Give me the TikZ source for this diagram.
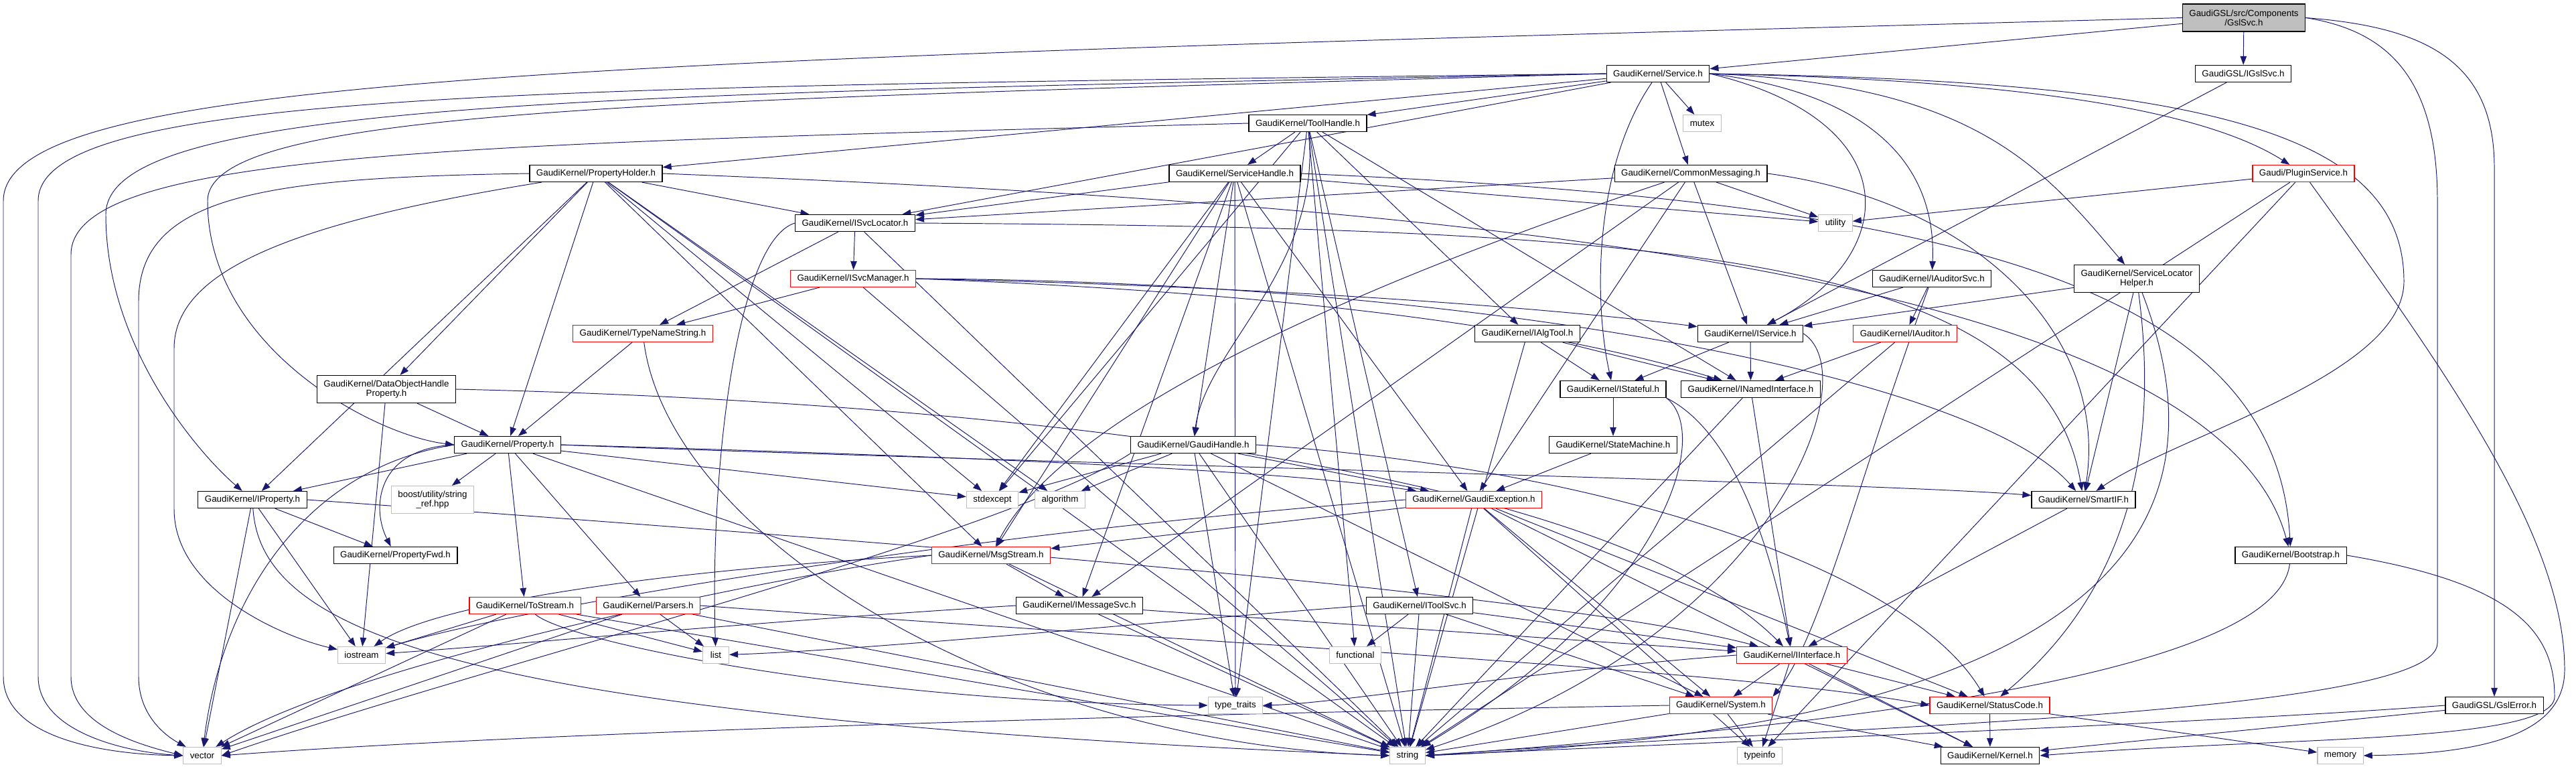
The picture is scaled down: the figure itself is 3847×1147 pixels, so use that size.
\documentclass[tikz,border=0pt]{standalone}
\usepackage{fontspec}
\setmainfont{Liberation Sans}
\usetikzlibrary{arrows.meta}
\definecolor{edgeblue}{HTML}{191970}
\definecolor{sysgray}{HTML}{BFBFBF}
\pgfdeclarelayer{back}
\pgfsetlayers{back,main}
\newcommand\hdrfont{\fontsize{7.6pt}{8pt}\selectfont}
\tikzset{
  hdr/.style={draw=black, line width=0.7pt, fill=white, font=\hdrfont, inner xsep=0.2cm, inner ysep=0.04cm, minimum height=0.5cm},
  syshdr/.style={hdr, draw=sysgray, minimum width=0.78cm},
  cuthdr/.style={hdr, draw=red},
  twoline/.style={align=center, minimum height=0.82cm},
  dep/.style={draw=edgeblue, line width=0.55pt, -{Triangle[length=0.26cm, width=0.19cm]}},
}

\begin{document}
\begin{tikzpicture}[x=0.02cm, y=-0.02cm]
		\useasboundingbox (0, 0) rectangle (3847, 1147);
		%%%%% NODES %%%%%
		\node[hdr, twoline, fill=sysgray] (gslsvc) at (3351, 26.5) {GaudiGSL/src/Components\\/GslSvc.h};
		
		\node[hdr] (svc) at (2476, 110) {GaudiKernel/Service.h};
		\node[hdr] (igslsvc) at (3350, 110) {GaudiGSL/IGslSvc.h};
		
		\node[hdr] (toolhandle) at (1953, 184) {GaudiKernel/ToolHandle.h};
		\node[syshdr] (mutex) at (2542, 184) {mutex};
		
		\node[hdr] (propholder) at (890, 259) {GaudiKernel/PropertyHolder.h};
		\node[hdr] (svchandle) at (1844, 259) {GaudiKernel/ServiceHandle.h};
		\node[hdr] (commsg) at (2525, 259) {GaudiKernel/CommonMessaging.h};
		\node[cuthdr] (plugin) at (3440, 259) {Gaudi/PluginService.h};
		
		\node[hdr] (isvcloc) at (1277, 333) {GaudiKernel/ISvcLocator.h};
		\node[syshdr] (utility) at (2741, 333) {utility};
		
		\node[cuthdr] (isvcmgr) at (1274, 416) {GaudiKernel/ISvcManager.h};
		\node[hdr] (iaudsvc) at (2885, 416) {GaudiKernel/IAuditorSvc.h};
		\node[hdr, twoline] (slhelper) at (3191, 416) {GaudiKernel/ServiceLocator\\Helper.h};
		
		\node[cuthdr] (typename) at (960, 498) {GaudiKernel/TypeNameString.h};
		\node[hdr] (ialgtool) at (2281, 498) {GaudiKernel/IAlgTool.h};
		\node[hdr] (iservice) at (2614, 498) {GaudiKernel/IService.h};
		\node[cuthdr] (iauditor) at (2845, 498) {GaudiKernel/IAuditor.h};
		
		\node[hdr, twoline] (dohprop) at (577, 581) {GaudiKernel/DataObjectHandle\\Property.h};
		\node[hdr] (istateful) at (2409, 581) {GaudiKernel/IStateful.h};
		\node[hdr] (inamed) at (2614.5, 581) {GaudiKernel/INamedInterface.h};
		
		\node[hdr] (property) at (758, 664) {GaudiKernel/Property.h};
		\node[hdr] (gaudihandle) at (1782, 664) {GaudiKernel/GaudiHandle.h};
		\node[hdr] (statemach) at (2409, 664) {GaudiKernel/StateMachine.h};
		
		\node[hdr] (iproperty) at (377, 746) {GaudiKernel/IProperty.h};
		\node[syshdr, twoline] (stringref) at (646, 746) {boost/utility/string\\\_ref.hpp};
		\node[syshdr] (stdexcept) at (1482, 746) {stdexcept};
		\node[syshdr] (algorithm) at (1583, 746) {algorithm};
		\node[cuthdr] (gaudiexc) at (2201, 746) {GaudiKernel/GaudiException.h};
		\node[hdr] (smartif) at (3111.5, 746) {GaudiKernel/SmartIF.h};
		
		\node[hdr] (propfwd) at (590.5, 829) {GaudiKernel/PropertyFwd.h};
		\node[cuthdr] (msgstream) at (1480, 829) {GaudiKernel/MsgStream.h};
		\node[hdr] (bootstrap) at (3421, 829) {GaudiKernel/Bootstrap.h};
		
		\node[cuthdr] (tostream) at (784, 904) {GaudiKernel/ToStream.h};
		\node[cuthdr] (parsers) at (968, 904) {GaudiKernel/Parsers.h};
		\node[hdr] (imsgsvc) at (1612, 904) {GaudiKernel/IMessageSvc.h};
		\node[hdr] (itoolsvc) at (2120, 904) {GaudiKernel/IToolSvc.h};
		
		\node[syshdr] (iostream) at (540, 978) {iostream};
		\node[syshdr] (list) at (1069, 978) {list};
		\node[syshdr] (functional) at (2024, 978) {functional};
		\node[cuthdr] (iinterface) at (2676, 978) {GaudiKernel/IInterface.h};
		
		\node[syshdr] (typetraits) at (1845, 1053) {type\_traits};
		\node[cuthdr] (system) at (2570, 1053) {GaudiKernel/System.h};
		\node[cuthdr] (statuscode) at (2971.5, 1053) {GaudiKernel/StatusCode.h};
		\node[hdr] (gslerror) at (3725, 1053) {GaudiGSL/GslError.h};
		
		\node[syshdr] (vector) at (302, 1128) {vector};
		\node[syshdr] (string) at (2102, 1128) {string};
		\node[syshdr] (typeinfo) at (2628, 1128) {typeinfo};
		\node[hdr] (kernel) at (2972, 1128) {GaudiKernel/Kernel.h};
		\node[syshdr] (memory) at (3495, 1128) {memory};
		
		%%%%% EDGES %%%%%
		\begin{pgfonlayer}{back}
		\draw[dep] (gslsvc) -- (svc);
		\draw[dep] (gslsvc) -- (igslsvc);
		\draw[dep] (gslsvc.west) .. controls (900, 90) and (5, 110) .. (5, 300) -- (5, 1010) .. controls (5, 1100) and (150, 1126) .. (vector.west);
		\draw[dep] (gslsvc.east) .. controls (3620, 40) and (3725, 90) .. (3725, 250) -- (gslerror);
		\draw[dep] (gslsvc.east) .. controls (3560, 45) and (3640, 110) .. (3640, 300) -- (3640, 960) .. controls (3640, 1070) and (2700, 1085) .. (string.east);
		\draw[dep] (igslsvc) -- (iservice);
		
		\draw[dep] (svc) -- (toolhandle);
		\draw[dep] (svc) -- (mutex);
		\draw[dep] (svc) -- (commsg);
		\draw[dep] (svc) -- (propholder);
		\draw[dep] (svc) -- (isvcloc);
		\draw[dep] (svc) .. controls (2380, 250) and (2380, 450) .. (istateful);
		\draw[dep] (svc.east) .. controls (2800, 140) and (2892, 250) .. (iaudsvc);
		\draw[dep] (svc.east) .. controls (2950, 125) and (3050, 250) .. (slhelper);
		\draw[dep] (svc.east) .. controls (3050, 120) and (3300, 170) .. (plugin);
		\draw[dep] (svc.east) .. controls (3300, 120) and (3590, 200) .. (3590, 420) .. controls (3590, 560) and (3250, 650) .. (smartif);
		\draw[dep] (svc.east) .. controls (2850, 180) and (2840, 380) .. (iservice);
		\draw[dep] (svc.west) .. controls (1000, 150) and (310, 160) .. (310, 300) .. controls (310, 520) and (560, 650) .. (property.west);
		\draw[dep] (svc.west) .. controls (900, 140) and (158, 150) .. (158, 320) .. controls (158, 520) and (300, 680) .. (iproperty);
		\draw[dep] (svc.west) .. controls (800, 130) and (57, 135) .. (57, 300) -- (57, 1010) .. controls (57, 1090) and (180, 1122) .. (vector.west);
		
		\draw[dep] (toolhandle) -- (svchandle);
		\draw[dep] (toolhandle) .. controls (1975, 400) and (1800, 520) .. (gaudihandle);
		\draw[dep] (toolhandle) -- (ialgtool);
		\draw[dep] (toolhandle) -- (itoolsvc);
		\draw[dep] (toolhandle) -- (inamed);
		\draw[dep] (toolhandle) -- (stdexcept);
		\draw[dep] (toolhandle) -- (string);
		\draw[dep] (toolhandle) -- (functional);
		\draw[dep] (toolhandle) -- (typetraits);
		\draw[dep] (toolhandle.west) .. controls (700, 215) and (106, 225) .. (106, 380) -- (106, 1010) .. controls (106, 1080) and (200, 1110) .. (vector.west);
		
		\draw[dep] (propholder.west) .. controls (400, 265) and (207, 290) .. (207, 450) -- (207, 1010) .. controls (207, 1070) and (250, 1100) .. (vector);
		\draw[dep] (propholder) .. controls (450, 330) and (260, 400) .. (260, 520) -- (260, 760) .. controls (260, 880) and (420, 950) .. (iostream);
		\draw[dep] (propholder) -- (iproperty);
		\draw[dep] (propholder) -- (dohprop);
		\draw[dep] (propholder) -- (property);
		\draw[dep] (propholder) -- (isvcloc);
		\draw[dep] (propholder) -- (stdexcept);
		\draw[dep] (propholder) -- (algorithm);
		\draw[dep] (propholder) -- (msgstream);
		\draw[dep] (propholder) -- (string);
		\draw[dep] (propholder.east) .. controls (2000, 300) and (3300, 380) .. (bootstrap);
		
		\draw[dep] (svchandle) -- (isvcloc);
		\draw[dep] (svchandle) -- (gaudihandle);
		\draw[dep] (svchandle) -- (gaudiexc);
		\draw[dep] (svchandle) -- (msgstream);
		\draw[dep] (svchandle) -- (imsgsvc);
		\draw[dep] (svchandle) -- (stdexcept);
		\draw[dep] (svchandle) -- (string);
		\draw[dep] (svchandle) -- (typetraits);
		\draw[dep] (svchandle) -- (utility);
		\draw[dep] (svchandle.east) .. controls (2900, 300) and (3400, 420) .. (bootstrap);
		
		\draw[dep] (commsg) -- (isvcloc);
		\draw[dep] (commsg) .. controls (2100, 400) and (1600, 600) .. (msgstream);
		\draw[dep] (commsg) -- (imsgsvc);
		\draw[dep] (commsg) -- (gaudiexc);
		\draw[dep] (commsg) -- (iservice);
		\draw[dep] (commsg) -- (utility);
		\draw[dep] (commsg.east) .. controls (2950, 300) and (3150, 500) .. (smartif);
		
		\draw[dep] (plugin) -- (utility);
		\draw[dep] (plugin) -- (string);
		\draw[dep] (plugin) -- (typeinfo);
		\draw[dep] (plugin) .. controls (3650, 550) and (3830, 800) .. (3830, 1000) .. controls (3830, 1100) and (3700, 1125) .. (memory.east);
		
		\draw[dep] (isvcloc) -- (isvcmgr);
		\draw[dep] (isvcloc) -- (typename);
		\draw[dep] (isvcloc.west) .. controls (1100, 360) and (1060, 700) .. (list);
		\draw[dep] (isvcloc) -- (string);
		\draw[dep] (isvcloc.east) .. controls (2500, 340) and (3050, 380) .. (smartif);
		
		\draw[dep] (isvcmgr) -- (typename);
		\draw[dep] (isvcmgr) -- (string);
		\draw[dep] (isvcmgr.east) .. controls (2000, 430) and (2400, 470) .. (iservice);
		\draw[dep] (isvcmgr.east) .. controls (2000, 440) and (2350, 500) .. (inamed);
		\draw[dep] (isvcmgr.east) .. controls (2200, 420) and (2950, 560) .. (smartif);
		
		\draw[dep] (iaudsvc) -- (iservice);
		\draw[dep] (iaudsvc) -- (iauditor);
		\draw[dep] (iaudsvc) .. controls (2780, 700) and (2720, 950) .. (system.north east);
		
		\draw[dep] (slhelper) -- (iservice);
		\draw[dep] (slhelper) -- (smartif);
		\draw[dep] (slhelper) .. controls (3215, 600) and (3215, 850) .. (statuscode);
		\draw[dep] (slhelper) .. controls (3300, 700) and (3290, 1080) .. (string.east);
		
		\draw[dep] (typename) -- (property);
		\draw[dep] (typename) .. controls (1000, 800) and (1500, 1110) .. (string.west);
		\draw[dep] (ialgtool) -- (istateful);
		\draw[dep] (ialgtool) -- (inamed);
		\draw[dep] (ialgtool) -- (string);
		\draw[dep] (iservice) -- (istateful);
		\draw[dep] (iservice) -- (inamed);
		\draw[dep] (iservice.east) .. controls (2790, 560) and (2650, 950) .. (string);
		\draw[dep] (iauditor) -- (inamed);
		\draw[dep] (iauditor) -- (string);
		
		\draw[dep] (dohprop) -- (property);
		\draw[dep] (dohprop) -- (iostream);
		\draw[dep] (dohprop.east) .. controls (1500, 600) and (2400, 700) .. (iinterface);
		\draw[dep] (istateful) -- (statemach);
		\draw[dep] (istateful.south east) .. controls (2600, 650) and (2650, 850) .. (iinterface);
		\draw[dep] (istateful.south east) .. controls (2560, 650) and (2480, 900) .. (string);
		\draw[dep] (inamed) -- (iinterface);
		\draw[dep] (inamed) -- (string);
		
		\draw[dep] (property) -- (iproperty);
		\draw[dep] (property.west) .. controls (560, 670) and (555, 760) .. (propfwd);
		\draw[dep] (property) -- (stringref);
		\draw[dep] (property) -- (tostream);
		\draw[dep] (property) -- (parsers);
		\draw[dep] (property.west) .. controls (450, 700) and (330, 900) .. (vector);
		\draw[dep] (property) -- (string);
		\draw[dep] (property) -- (stdexcept);
		\draw[dep] (property.east) .. controls (1400, 680) and (1900, 700) .. (gaudiexc);
		\draw[dep] (property.east) .. controls (1500, 690) and (2800, 720) .. (smartif);
		
		\draw[dep] (gaudihandle) -- (stdexcept);
		\draw[dep] (gaudihandle) -- (algorithm);
		\draw[dep] (gaudihandle) -- (gaudiexc);
		\draw[dep] (gaudihandle) -- (system);
		\draw[dep] (gaudihandle) -- (string);
		\draw[dep] (gaudihandle) -- (typetraits);
		\draw[dep] (gaudihandle.south west) .. controls (1500, 800) and (700, 1000) .. (vector.east);
		\draw[dep] (gaudihandle.east) .. controls (2400, 700) and (2850, 850) .. (statuscode);
		\draw[dep] (statemach) -- (gaudiexc);
		
		\draw[dep] (iproperty) -- (propfwd);
		\draw[dep] (iproperty) -- (iostream);
		\draw[dep] (iproperty) -- (vector);
		\draw[dep] (iproperty) .. controls (390, 950) and (700, 1070) .. (string.west);
		\draw[dep] (iproperty.east) .. controls (1200, 800) and (2300, 880) .. (iinterface);
		
		\draw[dep] (gaudiexc) -- (string);
		\draw[dep] (gaudiexc) -- (system);
		\draw[dep] (gaudiexc) -- (statuscode);
		\draw[dep] (gaudiexc) -- (kernel);
		\draw[dep] (gaudiexc) -- (typeinfo);
		\draw[dep] (gaudiexc) -- (msgstream);
		\draw[dep] (gaudiexc.west) .. controls (1500, 790) and (800, 900) .. (iostream);
		\draw[dep] (smartif) -- (iinterface);
		
		\draw[dep] (msgstream) -- (imsgsvc);
		\draw[dep] (msgstream) -- (string);
		\draw[dep] (msgstream.west) .. controls (1000, 850) and (650, 900) .. (iostream);
		\draw[dep] (msgstream.west) .. controls (1100, 870) and (500, 1000) .. (vector);
		\draw[dep] (bootstrap) .. controls (3400, 1000) and (2800, 1080) .. (string.east);
		\draw[dep] (bootstrap.east) .. controls (3750, 870) and (3815, 940) .. (3815, 1040) .. controls (3815, 1110) and (3400, 1100) .. (kernel.east);
		
		\draw[dep] (tostream) -- (iostream);
		\draw[dep] (tostream) -- (vector);
		\draw[dep] (tostream) -- (list);
		\draw[dep] (tostream) -- (string);
		\draw[dep] (tostream) .. controls (850, 960) and (1300, 1050) .. (typetraits.west);
		\draw[dep] (parsers) -- (vector);
		\draw[dep] (parsers) -- (list);
		\draw[dep] (parsers) -- (string);
		\draw[dep] (parsers.east) .. controls (1800, 960) and (2600, 1000) .. (statuscode.west);
		\draw[dep] (imsgsvc) -- (iinterface);
		\draw[dep] (imsgsvc) -- (string);
		\draw[dep] (imsgsvc.west) .. controls (1100, 930) and (800, 960) .. (iostream);
		\draw[dep] (itoolsvc.west) .. controls (1700, 930) and (1300, 970) .. (list);
		\draw[dep] (itoolsvc) -- (functional);
		\draw[dep] (itoolsvc) -- (string);
		\draw[dep] (itoolsvc) -- (system);
		\draw[dep] (itoolsvc) -- (iinterface);
		
		\draw[dep] (iinterface) -- (system);
		\draw[dep] (iinterface) -- (typeinfo);
		\draw[dep] (iinterface) -- (kernel);
		\draw[dep] (iinterface) -- (statuscode);
		\draw[dep] (iinterface.west) .. controls (2300, 1000) and (2000, 1050) .. (typetraits.east);
		\draw[dep] (system) -- (string);
		\draw[dep] (system) -- (typeinfo);
		\draw[dep] (system) -- (kernel);
		\draw[dep] (system.west) .. controls (1500, 1070) and (700, 1100) .. (vector.east);
		\draw[dep] (statuscode) -- (kernel);
		\draw[dep] (statuscode) -- (memory);
		\draw[dep] (gslerror) -- (kernel);
		\draw[dep] (gslerror.west) .. controls (3300, 1080) and (2500, 1110) .. (string.east);
		\end{pgfonlayer}
		%%%%% END %%%%%
\end{tikzpicture}
\end{document}
